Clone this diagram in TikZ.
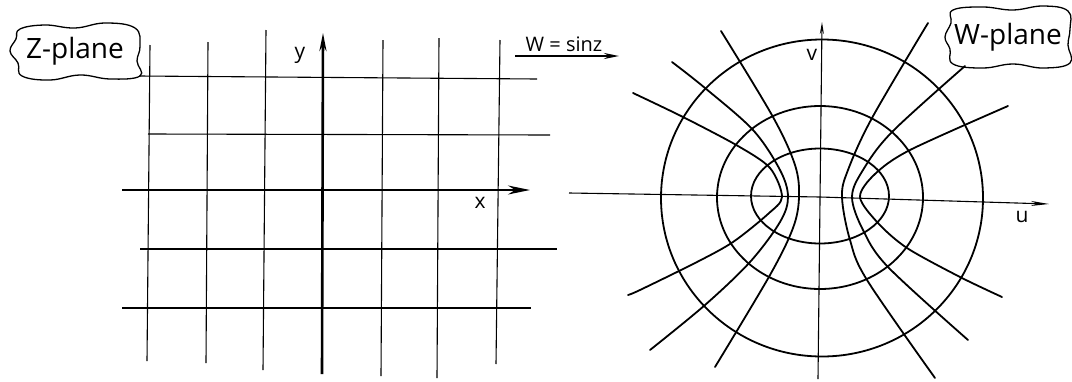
\documentclass[tikz,border=0pt]{standalone}
\usepackage{fontspec}
\setmainfont{Open Sans}
\usetikzlibrary{arrows.meta}
\begin{document}
\begin{tikzpicture}[x=1pt,y=-1pt,
  grid/.style={line width=1.1pt},
  curve/.style={line width=1.8pt, line join=round, line cap=round},
  thinaxis/.style={line width=1.1pt},
  lbl/.style={font=\fontsize{21}{22}\selectfont, inner sep=0pt},
  bubbletext/.style={font=\fontsize{28}{30}\selectfont, inner sep=0pt},
  bubbleline/.style={line width=1.3pt, line join=round}]
\useasboundingbox (0,0) rectangle (1072,381);

% ---------- z-plane ----------
\node[bubbletext] (zp) at (75,51) {Z-plane};
\draw[bubbleline, shift={(zp.center)}] plot[smooth cycle, tension=0.7] coordinates {(-55,-22) (-30,-26) (0,-23) (30,-28) (60,-23) (65,-5) (62,10) (65,25) (35,28) (5,24) (-25,29) (-53,25) (-57,12) (-65,0) (-59,-12)};

% horizontal grid lines
\draw[grid] (139,76) -- (537,79);
\draw[grid] (148,134) -- (550,135);
\draw[grid] (140,249) -- (557,249);
\draw[grid] (122,308) -- (531,308);
% vertical grid lines
\draw[grid] (150,45) -- (147,361);
\draw[grid] (208,42) -- (206,363);
\draw[grid] (266,30) -- (263,370);
\draw[grid] (383,40) -- (381,376);
\draw[grid] (439,38) -- (437,378);
\draw[grid] (500,40) -- (496,364);
% axes
\coordinate (xs) at (122,190);
\coordinate (xe) at (530,190);
\coordinate (ys) at (322,374);
\coordinate (ye) at (323,33);
\draw[line width=2pt, -{Stealth[length=22pt,width=9pt]}] (xs) -- (xe);
\draw[line width=2.6pt, -{Stealth[length=18pt,width=7pt]}] (ys) -- (ye);
\node[lbl] (ylab) at (300,55) {y};
\node[lbl] (xlab) at (480,203) {x};

% ---------- mapping arrow ----------
\node[font=\fontsize{20}{22}\selectfont, inner sep=0pt] (map) at (564,44) {W = sinz};
\coordinate (ma) at (515,56);
\coordinate (mb) at (619,56);
\draw[line width=2pt, -{Stealth[length=15pt,width=6pt]}] (ma) -- (mb);

% ---------- w-plane ----------
\node[bubbletext] (wp) at (1008,37) {W-plane};
\draw[bubbleline, shift={(wp.center)}] plot[smooth cycle, tension=0.7] coordinates {(-55,-27) (-25,-30) (5,-27) (35,-31) (60,-26) (62,-8) (60,8) (62,26) (35,31) (5,27) (-25,31) (-55,27) (-58,12) (-63,0) (-57,-14)};

% axes
\coordinate (us) at (569,193);
\coordinate (uo) at (820,197);
\coordinate (ue) at (1049,204);
\coordinate (vs) at (818,379);
\coordinate (ve) at (822,22);
\draw[thinaxis, -{Stealth[length=18pt,width=5pt]}] (us) -- (uo) -- (ue);
\draw[thinaxis, -{Stealth[length=12pt,width=4pt]}] (vs) -- (ve);
\node[lbl] (vlab) at (812,55) {v};
\node[lbl] (ulab) at (1022,217) {u};

% ellipses (images of horizontal lines)
\draw[curve] (822,198) ellipse [x radius=161, y radius=158.5];
\draw[curve] (820,197.5) ellipse [x radius=103, y radius=91.5];
\draw[curve] (820,196) ellipse [x radius=69, y radius=47.5];

% hyperbolas (images of vertical lines), left
\draw[curve] plot[smooth, tension=0.55] coordinates {(721,31) (773,117) (795,165) (799,197) (793,228) (770,275) (715,367)};
\draw[curve] plot[smooth, tension=0.55] coordinates {(672,62) (705,88) (753,130) (780,170) (788,197) (780,222) (750,262) (705,305) (650,350)};
\draw[curve] plot[smooth, tension=0.5] coordinates {(633,93) (683,117) (738,146) (770,168) (782,197) (768,214) (733,242) (697,262) (640,290) (628,295)};
% right
\draw[curve] plot[smooth, tension=0.55] coordinates {(928,23) (872,118) (848,170) (842,197) (850,240) (867,280) (935,378)};
\draw[curve] plot[smooth, tension=0.55] coordinates {(965,66) (892,132) (863,170) (852,197) (863,230) (888,267) (968,340)};
\draw[curve] plot[smooth, tension=0.5] coordinates {(1008,106) (910,150) (875,174) (860,197) (878,223) (907,248) (960,277) (1002,297)};
\end{tikzpicture}
\end{document}
